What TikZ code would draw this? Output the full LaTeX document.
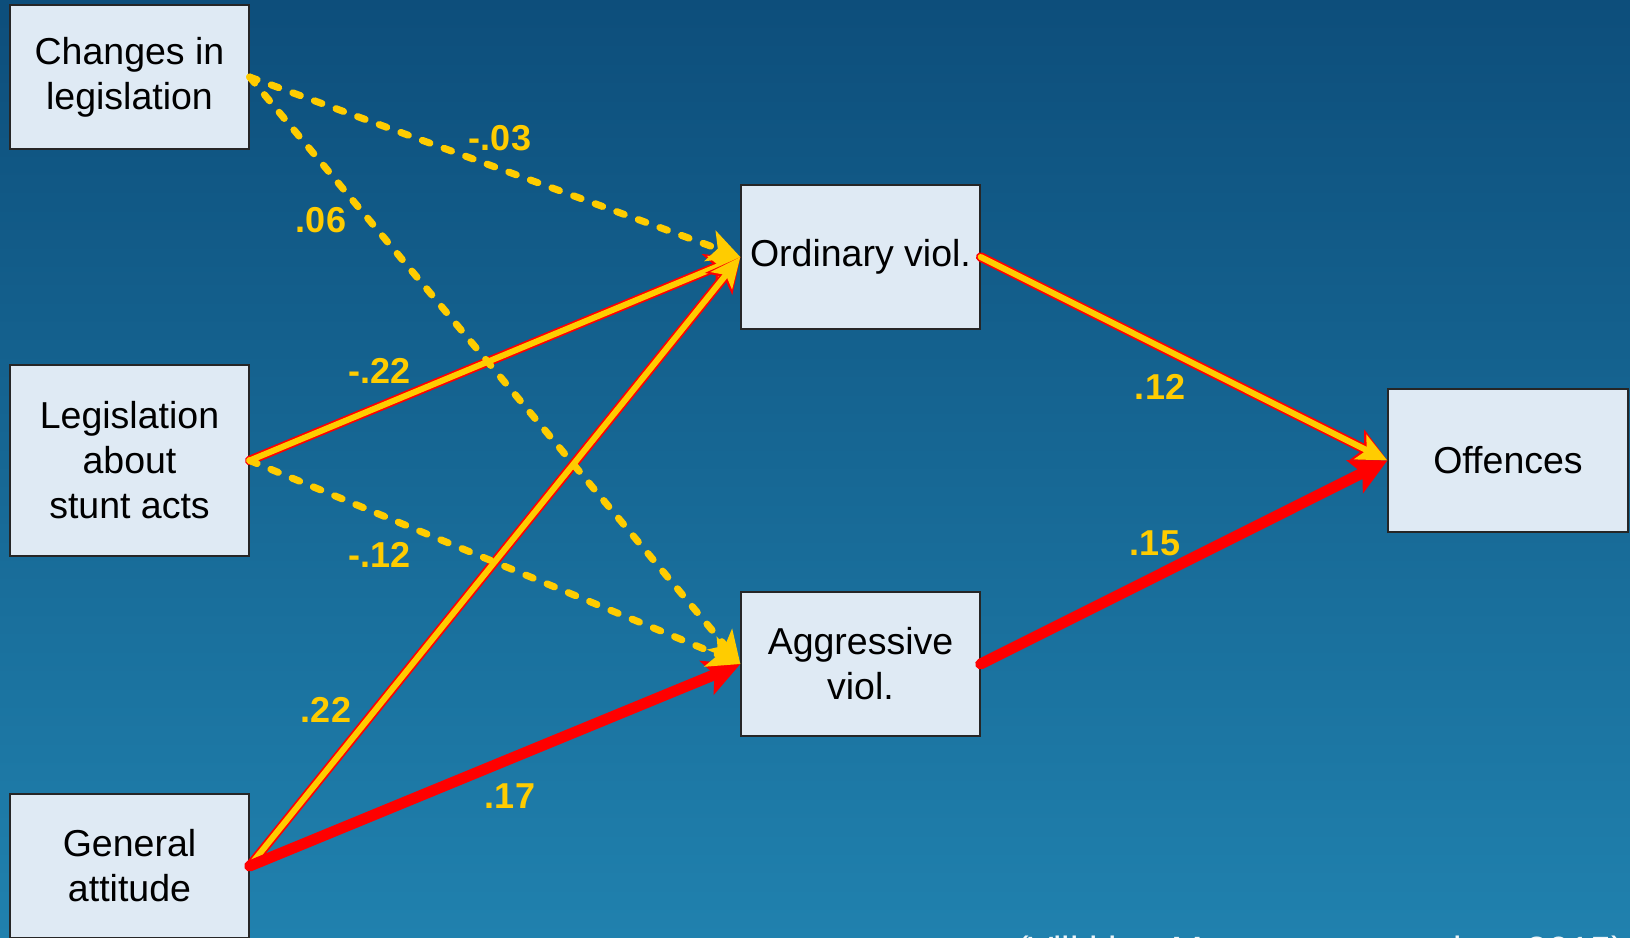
\documentclass[tikz,border=0pt]{standalone}
\usepackage{fontspec}
\setmainfont{Liberation Sans}
\usetikzlibrary{arrows.meta}
\definecolor{bgtop}{HTML}{0D4E7B}
\definecolor{bgbot}{HTML}{2081AE}
\definecolor{boxfill}{HTML}{DFEAF4}
\definecolor{yel}{HTML}{FFCC00}
\definecolor{redc}{HTML}{FF0000}
\tikzset{
  varbox/.style={draw=black!85, line width=1.3pt, fill=boxfill, minimum width=239pt, minimum height=144pt,
    align=center, inner sep=0pt, font=\fontsize{37.5}{45}\selectfont},
  coef/.style={text=yel, font=\bfseries\fontsize{36}{40}\selectfont, inner sep=0pt},
  dashpath/.style={draw=yel, line width=7pt, line cap=round, dash pattern=on 8pt off 15pt,
    -{Stealth[length=32pt,width=32pt,inset=8pt]}},
  redunder/.style={draw=redc, line width=9.5pt, line cap=round,
    -{Stealth[length=34pt,width=34pt,inset=8pt]}},
  yelover/.style={draw=yel, line width=6pt, line cap=round,
    -{Stealth[length=30pt,width=27pt,inset=7pt]}},
  redpath/.style={draw=redc, line width=11pt, line cap=round,
    -{Stealth[length=36pt,width=36pt,inset=8pt]}},
}
\begin{document}
\begin{tikzpicture}[x=1pt,y=-1pt]
\useasboundingbox (0,0) rectangle (1630,937);
\begin{scope}
\clip (0,0) rectangle (1630,937);
\fill[top color=bgtop, bottom color=bgbot] (0,0) rectangle (1630,937);

\node[varbox] (chg) at (129.5,77) {Changes in\\legislation};
\node[varbox, minimum height=191pt] (leg) at (129.5,460.5) {Legislation\\about\\stunt acts};
\node[varbox] (gen) at (129.5,866) {General\\attitude};
\node[varbox] (ord) at (860.5,257) {Ordinary viol.};
\node[varbox] (agg) at (860.5,664) {Aggressive\\viol.};
\node[varbox, minimum width=240pt, minimum height=143pt] (off) at (1508,460.5) {Offences};

% solid red/yellow paths
\draw[redunder] (leg.east) -- (ord.west);
\draw[yelover] (leg.east) -- (ord.west);
\draw[redunder] (gen.east) -- (ord.west);
\draw[yelover] (gen.east) -- (ord.west);
\draw[redunder] (ord.east) -- (off.west);
\draw[yelover] (ord.east) -- (off.west);
% red paths
\draw[redpath] (gen.east) -- (agg.west);
\draw[redpath] (agg.east) -- (off.west);
% dashed paths
\draw[dashpath] (chg.east) -- (ord.west);
\draw[dashpath] (chg.east) -- (agg.west);
\draw[dashpath] (leg.east) -- (agg.west);

% coefficients
\node[coef] (c1) at (500,138) {-.03};
\node[coef] (c2) at (321,220) {.06};
\node[coef] (c3) at (380,371) {-.22};
\node[coef] (c4) at (380,555) {-.12};
\node[coef] (c5) at (326,710) {.22};
\node[coef] (c6) at (510,796) {.17};
\node[coef] (c7) at (1160,387) {.12};
\node[coef] (c8) at (1155,543) {.15};

% source line (cut off at bottom edge, as in the reference)
\node[anchor=base west, text=white!92!bgbot, inner sep=0pt, font=\fontsize{38}{40}\selectfont] (src) at (1016,963)
  {\makebox[608pt][s]{(Vilkki, Mattsson et al., 2015)}};
\end{scope}
\end{tikzpicture}
\end{document}
